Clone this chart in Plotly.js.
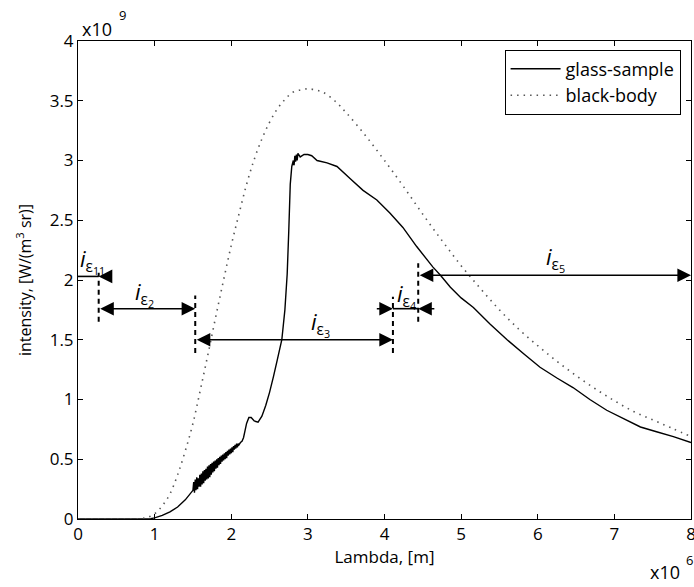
<!DOCTYPE html>
<html>
<head>
<meta charset="utf-8">
<script src="https://cdn.plot.ly/plotly-3.0.1.min.js"></script>
<style>html,body{margin:0;padding:0;background:#fff;}#chart{width:694px;height:587px;}</style>
</head>
<body>
<div id="chart"></div>
<script>
// Black-body curve (x in 1e-6 m, y in 1e9 W/(m^3 sr))
const bbLambda = [0, 0.5, 0.8, 0.9, 1.0, 1.1, 1.2, 1.3, 1.4, 1.5, 1.6, 1.7, 1.8, 1.9, 2.0, 2.1, 2.2, 2.3, 2.4, 2.5, 2.6, 2.7, 2.8, 2.9, 3.0, 3.1, 3.2, 3.35, 3.5, 3.75, 4.0, 4.25, 4.5, 4.75, 5.0, 5.25, 5.5, 5.75, 6.0, 6.25, 6.5, 6.75, 7.0, 7.25, 7.5, 7.75, 8.0];
const bbIntensity = [0, 0, 0.003, 0.012, 0.044, 0.11, 0.21, 0.37, 0.57, 0.80, 1.09, 1.39, 1.70, 2.00, 2.29, 2.55, 2.80, 3.01, 3.18, 3.32, 3.43, 3.51, 3.57, 3.59, 3.60, 3.59, 3.57, 3.50, 3.40, 3.21, 3.00, 2.78, 2.55, 2.33, 2.12, 1.93, 1.75, 1.59, 1.45, 1.32, 1.20, 1.09, 0.99, 0.90, 0.83, 0.76, 0.69];

// Glass sample curve
const gsLambda = [
  0, 0.5, 0.85, 0.95, 1.0, 1.1, 1.2, 1.3, 1.4, 1.5,
  1.51, 1.52, 1.53, 1.54, 1.55, 1.56, 1.57, 1.58, 1.59, 1.60,
  1.61, 1.62, 1.63, 1.64, 1.65, 1.66, 1.67, 1.68, 1.69, 1.70,
  1.71, 1.72, 1.73, 1.74, 1.75, 1.76, 1.77, 1.78, 1.79, 1.80,
  1.81, 1.82, 1.83, 1.84, 1.85, 1.86, 1.87, 1.88, 1.89, 1.90,
  1.91, 1.92, 1.93, 1.94, 1.95, 1.96, 1.97, 1.98, 1.99, 2.00,
  2.01, 2.02, 2.03, 2.04, 2.05, 2.06, 2.07, 2.08, 2.09, 2.10,
  2.12, 2.14, 2.16, 2.18, 2.20, 2.23, 2.26, 2.30, 2.35, 2.40,
  2.45, 2.50, 2.55, 2.60, 2.66, 2.70, 2.73, 2.75, 2.77, 2.79,
  2.81, 2.82, 2.83, 2.84, 2.85, 2.86, 2.87, 2.90, 2.95, 3.00,
  3.05, 3.12, 3.25, 3.38, 3.55, 3.72, 3.90, 4.07, 4.24, 4.42,
  4.63, 4.73, 4.86, 5.00, 5.16, 5.38, 5.60, 5.82, 6.03, 6.25,
  6.46, 6.68, 6.90, 7.12, 7.34, 7.55, 7.77, 8.00];
const gsIntensity = [
  0, 0, 0, 0.003, 0.01, 0.03, 0.06, 0.10, 0.16, 0.24,
  0.31, 0.22, 0.33, 0.24, 0.35, 0.25, 0.34, 0.27, 0.37, 0.27,
  0.38, 0.29, 0.40, 0.30, 0.41, 0.32, 0.42, 0.33, 0.44, 0.34,
  0.45, 0.35, 0.46, 0.37, 0.47, 0.39, 0.48, 0.40, 0.49, 0.42,
  0.50, 0.43, 0.51, 0.45, 0.52, 0.46, 0.53, 0.48, 0.54, 0.49,
  0.55, 0.50, 0.56, 0.51, 0.57, 0.53, 0.58, 0.54, 0.59, 0.55,
  0.60, 0.56, 0.61, 0.58, 0.62, 0.59, 0.63, 0.60, 0.63, 0.62,
  0.64, 0.65, 0.68, 0.74, 0.80, 0.85, 0.85, 0.82, 0.81, 0.86,
  0.95, 1.06, 1.19, 1.33, 1.50, 1.75, 2.05, 2.40, 2.80, 2.95,
  3.00, 2.96, 3.04, 2.99, 3.05, 3.00, 3.06, 3.03, 3.05, 3.05,
  3.04, 3.00, 2.98, 2.95, 2.85, 2.75, 2.67, 2.56, 2.44, 2.28,
  2.11, 2.04, 1.94, 1.85, 1.77, 1.63, 1.50, 1.38, 1.27, 1.18,
  1.10, 1.00, 0.91, 0.84, 0.77, 0.73, 0.69, 0.64];

const xTicks = [0, 1, 2, 3, 4, 5, 6, 7, 8];
const yTicks = [0, 0.5, 1, 1.5, 2, 2.5, 3, 3.5, 4];

// Interval boundaries (x, 1e-6 m) and labels
const bounds = [0.27, 1.53, 4.11, 4.44, 8];
const intervalNames = ['ε<sub>11</sub>', 'ε<sub>2</sub>', 'ε<sub>3</sub>', 'ε<sub>4</sub>', 'ε<sub>5</sub>'];

const traces = [
  {x: gsLambda, y: gsIntensity, type: 'scatter', mode: 'lines', name: 'glass-sample',
   line: {color: '#000', width: 1.4, simplify: false}},
  {x: bbLambda, y: bbIntensity, type: 'scatter', mode: 'lines', name: 'black-body',
   line: {color: '#555', width: 1.6, dash: '1.5px,5px', shape: 'spline'}}
];

const fontFam = '"Open Sans", "Noto Sans", sans-serif';

function dashV(x, y0, y1) {
  return {type: 'line', xref: 'x', yref: 'y', x0: x, x1: x, y0: y0, y1: y1,
          line: {color: '#000', width: 2, dash: '5px,4px'}};
}
function hLine(x0, x1, y) {
  return {type: 'line', xref: 'x', yref: 'y', x0: x0, x1: x1, y0: y, y1: y,
          line: {color: '#000', width: 1.6}};
}
const shapes = [
  dashV(bounds[0], 1.65, 2.06),
  dashV(bounds[1], 1.39, 1.87),
  dashV(bounds[2], 1.39, 1.86),
  dashV(bounds[3], 1.65, 2.14),
  hLine(0, bounds[0], 2.03),
  hLine(bounds[2], bounds[3], 1.76)
];

function arrow(xTip, xTail, y, both) {
  return {x: xTip, y: y, ax: xTail, ay: y, xref: 'x', yref: 'y', axref: 'x', ayref: 'y',
          text: '', showarrow: true, arrowhead: 2, startarrowhead: 2, arrowsize: 1.7, startarrowsize: 1.7,
          arrowwidth: 1.6, arrowcolor: '#000', standoff: 0, startstandoff: 0,
          arrowside: both ? 'end+start' : 'end'};
}
function label(i, x, y) {
  return {x: x, y: y, xref: 'x', yref: 'y', showarrow: false,
          text: '<i>i</i><sub>' + intervalNames[i] + '</sub>',
          font: {family: fontFam, size: 22, color: '#000'}};
}
function pText(t, x, y, size, xa) {
  return {xref: 'paper', yref: 'paper', x: x, y: y, xanchor: xa || 'center', yanchor: 'middle',
          showarrow: false, text: t, font: {family: fontFam, size: size, color: '#000'}};
}

const annotations = [
  arrow(bounds[0], 0.45, 2.03, false),
  arrow(bounds[1], bounds[0], 1.76, true),
  arrow(bounds[2], bounds[1], 1.50, true),
  arrow(bounds[2], 3.88, 1.76, false),
  arrow(bounds[3], 4.67, 1.76, false),
  arrow(bounds[4], bounds[3], 2.04, true),
  label(0, 0.19, 2.16),
  label(1, 0.87, 1.89),
  label(2, 3.17, 1.64),
  label(3, 4.29, 1.87),
  label(4, 6.23, 2.18),
  pText('x10', 0.031, 1.025, 18),
  pText('9', 0.0718, 1.054, 13),
  pText('x10', 0.958, -0.111, 18),
  pText('6', 0.997, -0.086, 13)
];

const axisCommon = {
  showline: true, linecolor: '#000', linewidth: 1, mirror: 'ticks',
  ticks: 'inside', ticklen: 5, tickcolor: '#000', tickwidth: 1,
  showgrid: false, zeroline: false, ticklabeloverflow: 'allow',
  tickfont: {family: fontFam, size: 17, color: '#000'}
};

const layout = {
  width: 694, height: 587,
  margin: {l: 78, r: 3, t: 41, b: 68},
  paper_bgcolor: '#fff', plot_bgcolor: '#fff',
  showlegend: true,
  legend: {x: 0.983, y: 0.982, xanchor: 'right', yanchor: 'top', bgcolor: '#fff',
           bordercolor: '#000', borderwidth: 1, itemwidth: 50,
           font: {family: fontFam, size: 18, color: '#000'}, tracegroupgap: 0},
  xaxis: Object.assign({}, axisCommon, {range: [0, 8], tickvals: xTicks, ticktext: xTicks.map(String),
    title: {text: 'Lambda, [m]', font: {family: fontFam, size: 17, color: '#000'}, standoff: 6}}),
  yaxis: Object.assign({}, axisCommon, {range: [0, 4], tickvals: yTicks, ticktext: yTicks.map(String),
    title: {text: 'intensity, [W/(m<sup>3</sup> sr)]', font: {family: fontFam, size: 16, color: '#000'}, standoff: 14}}),
  shapes: shapes,
  annotations: annotations
};

Plotly.newPlot('chart', traces, layout, {displayModeBar: false, staticPlot: true});
</script>
</body>
</html>
